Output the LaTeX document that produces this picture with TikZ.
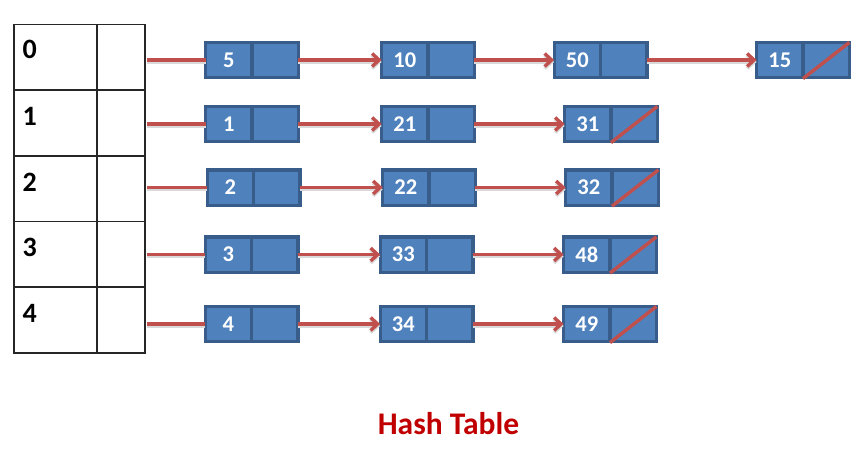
\documentclass[tikz,border=0pt]{standalone}
\usepackage{fontspec}
\setmainfont{Carlito}
\usetikzlibrary{arrows.meta,shadows}
\definecolor{nodefill}{HTML}{4F81BD}
\definecolor{nodeline}{HTML}{385D8A}
\definecolor{arrred}{HTML}{C0504D}
\definecolor{titlered}{HTML}{C00000}
\tikzset{
  valcell/.style={draw=nodeline, fill=nodefill, line width=3.2pt, outer sep=0pt,
    minimum width=46.4pt, minimum height=35.2pt, inner sep=0pt,
    text=white, font=\fontsize{22.5}{22.5}\selectfont\bfseries, anchor=west,
    drop shadow={shadow xshift=1.2pt, shadow yshift=-1.5pt, fill=black, opacity=0.18}},
  ptrcell/.style={valcell},
  keycell/.style={draw=black!85, line width=1.6pt, minimum width=83pt,
    minimum height=65.7pt, inner sep=0pt, outer sep=0pt},
  slotcell/.style={keycell, minimum width=48pt},
  keylbl/.style={font=\fontsize{28}{28}\selectfont\bfseries, anchor=base west, inner sep=0pt},
  conn/.style={draw=arrred, line width=3.4pt, -{Straight Barb[length=7pt,width=13pt]},
    preaction={draw=black!15, line width=3.4pt, transform canvas={yshift=-2pt}}},
  nullmark/.style={draw=arrred, line width=3.4pt},
  titlestyle/.style={font=\fontsize{31.5}{32}\selectfont\bfseries, text=titlered}
}
\begin{document}
\begin{tikzpicture}[x=1pt, y=-1pt]
\useasboundingbox (0,0) rectangle (867,458);

% table
\foreach \i/\b in {0/58.3,1/125,2/191.7,3/256.7,4/322}{
  \node[keycell] (k\i) at (55.5, 57.25+65.7*\i) {};
  \node[slotcell] (t\i) at (121, 57.25+65.7*\i) {};
  \node[keylbl] (l\i) at (22.5, \b) {\i};
}

% row 0
\node[valcell] (v00) at (205.6,60) {5};
\node[ptrcell] (p00) at (v00.east) {};
\node[valcell] (v01) at (381.6,60) {10};
\node[ptrcell] (p01) at (v01.east) {};
\node[valcell] (v02) at (554.1,60) {50};
\node[ptrcell] (p02) at (v02.east) {};
\node[valcell] (v03) at (756.6,60) {15};
\node[ptrcell] (p03) at (v03.east) {};
% row 1
\node[valcell] (v10) at (205.6,124) {1};
\node[ptrcell] (p10) at (v10.east) {};
\node[valcell] (v11) at (381.6,124) {21};
\node[ptrcell] (p11) at (v11.east) {};
\node[valcell] (v12) at (564.6,124) {31};
\node[ptrcell] (p12) at (v12.east) {};
% row 2
\node[valcell] (v20) at (207.1,187.5) {2};
\node[ptrcell] (p20) at (v20.east) {};
\node[valcell] (v21) at (382.6,187.5) {22};
\node[ptrcell] (p21) at (v21.east) {};
\node[valcell] (v22) at (565.6,187.5) {32};
\node[ptrcell] (p22) at (v22.east) {};
% row 3
\node[valcell] (v30) at (205.1,254.5) {3};
\node[ptrcell] (p30) at (v30.east) {};
\node[valcell] (v31) at (380.1,254.5) {33};
\node[ptrcell] (p31) at (v31.east) {};
\node[valcell] (v32) at (563.6,254.5) {48};
\node[ptrcell] (p32) at (v32.east) {};
% row 4
\node[valcell] (v40) at (205.1,324) {4};
\node[ptrcell] (p40) at (v40.east) {};
\node[valcell] (v41) at (380.1,324) {34};
\node[ptrcell] (p41) at (v41.east) {};
\node[valcell] (v42) at (563.6,324) {49};
\node[ptrcell] (p42) at (v42.east) {};

% connectors from table
\foreach \r in {0,...,4}{
  \draw[draw=arrred, line width=3.4pt, shorten <=2pt,
    preaction={draw=black!15, line width=3.4pt, shorten <=2pt, transform canvas={yshift=-2pt}}]
    (t\r.east |- v\r0.west) -- (v\r0.west);
}
% connectors between list elements
\draw[conn] (p00.east) -- (v01.west);
\draw[conn] (p01.east) -- (v02.west);
\draw[conn] (p02.east) -- (v03.west);
\foreach \r in {1,...,4}{
  \draw[conn] (p\r0.east) -- (v\r1.west);
  \draw[conn] (p\r1.east) -- (v\r2.west);
}

% null marks
\foreach \n in {p03,p12,p22,p32,p42}{
  \draw[nullmark] ([yshift=-1pt]\n.south west) -- (\n.north east);
}

\node[titlestyle] (title) at (448.5,424) {Hash Table};
\end{tikzpicture}
\end{document}
